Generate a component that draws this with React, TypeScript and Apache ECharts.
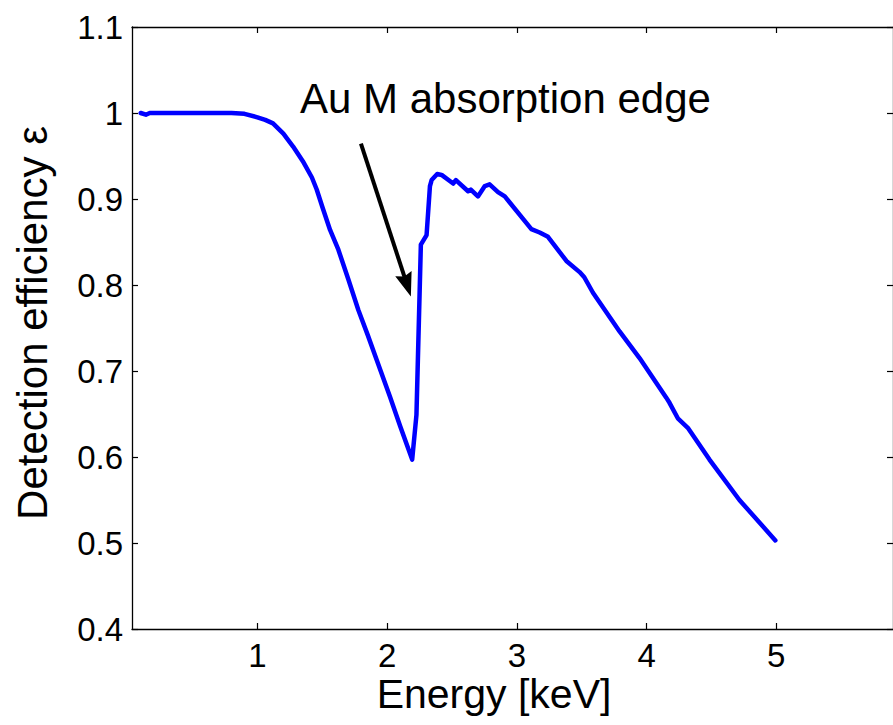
import React, { useEffect, useRef } from "react";
import * as echarts from "echarts";

const energy = [
  0.1, 0.14, 0.17, 0.5, 0.8, 0.9, 1.0, 1.06, 1.12, 1.2, 1.275, 1.35, 1.42, 1.457, 1.5, 1.56,
  1.624, 1.7, 1.778, 1.85, 1.919, 2.022, 2.1, 2.193, 2.226, 2.26, 2.304, 2.33, 2.343, 2.386,
  2.42, 2.509, 2.53, 2.624, 2.645, 2.7, 2.753, 2.79, 2.855, 2.907, 3.112, 3.176, 3.24, 3.382,
  3.484, 3.52, 3.587, 3.792, 3.946, 4.152, 4.177, 4.241, 4.318, 4.485, 4.716, 4.993,
];
const efficiency = [
  1.0, 0.998, 1.0, 1.0, 1.0, 0.999, 0.995, 0.992, 0.988, 0.976, 0.961, 0.944, 0.925, 0.911, 0.891, 0.864,
  0.841, 0.807, 0.771, 0.742, 0.713, 0.67, 0.636, 0.597, 0.649, 0.847, 0.858, 0.915, 0.922, 0.929,
  0.928, 0.918, 0.922, 0.909, 0.911, 0.903, 0.915, 0.917, 0.908, 0.903, 0.865, 0.861, 0.856, 0.828,
  0.815, 0.809, 0.791, 0.746, 0.715, 0.669, 0.663, 0.645, 0.634, 0.597, 0.55, 0.503,
];
const xTicks = [1, 2, 3, 4, 5];
const annotationText = "Au M absorption edge";
const arrowStart = [1.798, 0.9643];
const arrowTip = [2.183, 0.7867];

const FONT = "'Liberation Sans', Arial, Helvetica, sans-serif";

export default function App() {
  const ref = useRef<HTMLDivElement>(null);
  useEffect(() => {
    if (!ref.current) return;
    const chart = echarts.init(ref.current, undefined, { renderer: "svg" });
    const axisLine = { show: true, lineStyle: { color: "#000", width: 1.3 } };
    const tick = { show: true, inside: true, length: 6, lineStyle: { color: "#000", width: 1.2 } };
    const data = energy.map((e, i) => [e, efficiency[i]]);
    chart.setOption({
      animation: false,
      backgroundColor: "#fff",
      grid: { left: 132, top: 27, width: 762, height: 602, containLabel: false },
      xAxis: [
        {
          type: "value", min: 0.033, max: 5.9, position: "bottom",
          axisLine, splitLine: { show: false },
          axisTick: { ...tick, customValues: xTicks },
          axisLabel: { customValues: xTicks, color: "#000", fontFamily: FONT, fontSize: 33, margin: 10 },
        },
        {
          type: "value", min: 0.033, max: 5.9, position: "top",
          axisLine, splitLine: { show: false },
          axisTick: { ...tick, customValues: xTicks },
          axisLabel: { show: false },
        },
      ],
      yAxis: [
        {
          type: "value", min: 0.4, max: 1.1, interval: 0.1, position: "left",
          axisLine, splitLine: { show: false }, axisTick: tick,
          axisLabel: {
            color: "#000", fontFamily: FONT, fontSize: 33, margin: 9,
            formatter: (v: number) => String(parseFloat(v.toFixed(1))),
          },
        },
        {
          type: "value", min: 0.4, max: 1.1, interval: 0.1, position: "right",
          axisLine, splitLine: { show: false }, axisTick: tick, axisLabel: { show: false },
        },
      ],
      series: [
        {
          type: "line", data, showSymbol: false, symbol: "none",
          lineStyle: { color: "#0000ff", width: 4.5, join: "round", cap: "round" },
          xAxisIndex: 0, yAxisIndex: 0,
        },
      ],
    });
    const S = chart.convertToPixel({ gridIndex: 0 }, arrowStart) as number[];
    const T = chart.convertToPixel({ gridIndex: 0 }, arrowTip) as number[];
    const dx = T[0] - S[0], dy = T[1] - S[1];
    const len = Math.hypot(dx, dy);
    const ux = dx / len, uy = dy / len;
    const nx = -uy, ny = ux;
    const L = 24, W = 8.6;
    const bx = T[0] - ux * L, by = T[1] - uy * L;
    chart.setOption({
      graphic: [
        {
          type: "line",
          shape: { x1: S[0], y1: S[1], x2: bx + ux * 4, y2: by + uy * 4 },
          style: { stroke: "#000", lineWidth: 4 },
        },
        {
          type: "polygon",
          shape: {
            points: [
              [T[0], T[1]],
              [bx + nx * W, by + ny * W],
              [bx + ux * 3, by + uy * 3],
              [bx - nx * W, by - ny * W],
            ],
          },
          style: { fill: "#000" },
        },
        {
          type: "text", x: 300, y: 98,
          style: { text: annotationText, fill: "#000", font: `42px ${FONT}`, align: "left", verticalAlign: "middle" },
        },
        {
          type: "text", x: 494, y: 694,
          style: { text: "Energy [keV]", fill: "#000", font: `41px ${FONT}`, align: "center", verticalAlign: "middle" },
        },
        {
          type: "text", x: 32, y: 323, rotation: Math.PI / 2,
          style: { text: "Detection efficiency ε", fill: "#000", font: `42px ${FONT}`, align: "center", verticalAlign: "middle" },
        },
      ],
    });
    return () => chart.dispose();
  }, []);
  return (
    <div style={{ position: "fixed", left: 0, top: 0, width: 893, height: 725, overflow: "hidden", background: "#fff" }}>
      <div ref={ref} style={{ width: 893, height: 725 }} />
    </div>
  );
}
